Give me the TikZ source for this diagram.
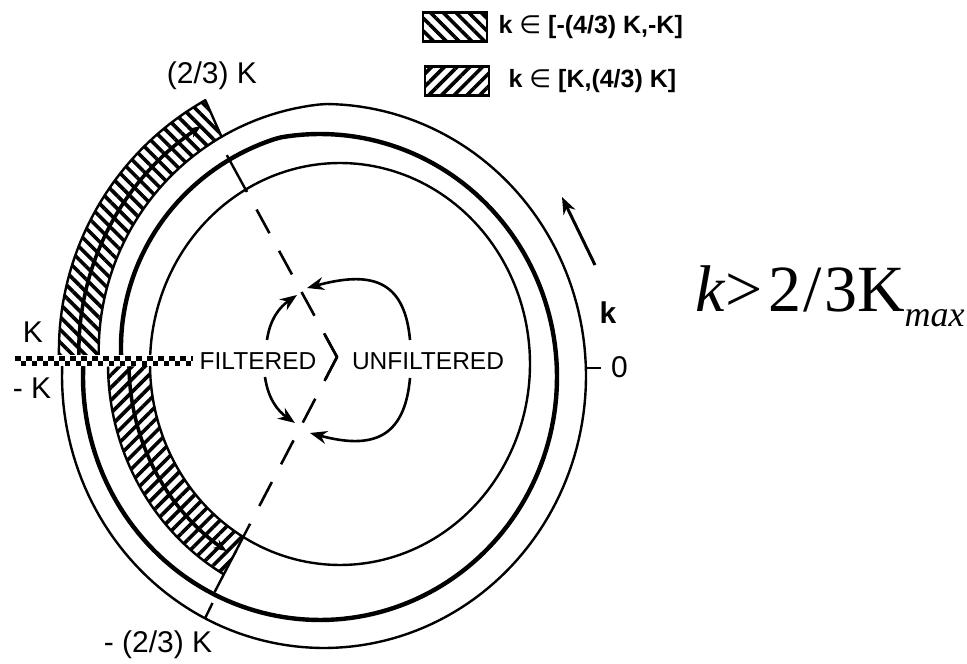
\documentclass[tikz,border=0pt]{standalone}
\usepackage{fontspec}
\setmainfont{Liberation Sans}
\newfontfamily\formulafont{Liberation Serif}
\newfontfamily\symfont{DejaVu Sans}
\usetikzlibrary{arrows.meta,patterns.meta,positioning,calc}
% radial shrink of the outer and middle rings towards K
\newcommand{\outdrop}{(38*max(0,\ang-450)/90)}
\newcommand{\middrop}{(40*max(0,\ang-460)/80)}

\begin{document}
\begin{tikzpicture}[
  x=1pt, y=1pt,
  >={Stealth[length=17pt,width=13pt]},
  ring/.style={line width=2.4pt, line join=round},
  thickring/.style={line width=4.4pt, line join=round},
  shaft/.style={line width=3.6pt, -{Stealth[length=13pt,width=10pt]}},
  tickmark/.style={line width=2.4pt},
  dashline/.style={line width=2.6pt, dash pattern=on 27pt off 20pt},
  flow/.style={line width=2.6pt, ->},
  negband/.style={pattern={Lines[angle=-45,distance=9pt,line width=3.6pt]}},
  posband/.style={pattern={Lines[angle=45,distance=9pt,line width=3.6pt]}},
  legbox/.style={draw, line width=2.8pt, minimum width=64pt, minimum height=29pt, inner sep=0pt},
  lbl/.style={font=\fontsize{30}{32}\selectfont, inner sep=0pt},
  midlbl/.style={font=\fontsize{24.5}{26}\selectfont, inner sep=0pt},
  legtxt/.style={font=\bfseries\fontsize{25}{27}\selectfont, inner sep=0pt, anchor=west},
]
\useasboundingbox (0,0) rectangle (967,664);

% --- hatched bands (aliased wavenumbers) ---
\fill[negband] plot[domain=474:536, samples=40, variable=\ang] ({324+(302-\outdrop)*cos(\ang)}, {288+(312-\outdrop)*sin(\ang)})
  -- plot[domain=536:474, samples=40, variable=\ang] ({324+(262-\outdrop)*cos(\ang)}, {288+(272-\outdrop)*sin(\ang)}) -- cycle;
\fill[posband] plot[domain=180.6:240, samples=40, variable=\ang] ({340+232*cos(\ang)}, {300+243*sin(\ang)})
  -- plot[domain=240:180.6, samples=40, variable=\ang] ({340+190*cos(\ang)}, {300+201*sin(\ang)}) -- cycle;
\coordinate (negend) at (221.5,527.3);
\draw[ring] plot[domain=536:474, samples=40, variable=\ang] ({324+(302-\outdrop)*cos(\ang)}, {288+(312-\outdrop)*sin(\ang)}) -- (negend);
\draw[ring] plot[domain=180.6:240, samples=40, variable=\ang] ({340+232*cos(\ang)}, {300+243*sin(\ang)});

% --- the three rings, cut at K / -K ---
\draw[ring] plot[domain=177:536, samples=200, variable=\ang] ({324+(262-\outdrop)*cos(\ang)}, {288+(272-\outdrop)*sin(\ang)});
\draw[thickring] plot[domain=176.7:535, samples=200, variable=\ang] ({320+(237-\middrop)*cos(\ang)}, {287+(243-\middrop)*sin(\ang)});
\draw[ring] plot[domain=180.6:538.3, samples=200, variable=\ang] ({340+190*cos(\ang)}, {300+201*sin(\ang)});

% --- arrows inside the bands ---
\draw[shaft] plot[domain=536:477, samples=40, variable=\ang] ({324+(282-\outdrop)*cos(\ang)}, {288+(292-\outdrop)*sin(\ang)});
\draw[shaft] plot[domain=180.6:237.5, samples=40, variable=\ang] ({340+211*cos(\ang)}, {300+222*sin(\ang)});

% --- tick marks ---
\coordinate (t1a) at (226.8,508.9);
\coordinate (t1b) at (245.5,474.7);
\coordinate (t3a) at (249.2,138.5);
\coordinate (t3b) at (214.6,71.9);
\coordinate (t4a) at (212.5,61);
\coordinate (t4b) at (205,45.6);
\coordinate (t5a) at (586,296);
\coordinate (t5b) at (601,296);
\draw[tickmark] (t1a) -- (t1b);
\draw[tickmark] (t3a) -- (t3b);
\draw[tickmark] (t4a) -- (t4b);
\draw[tickmark] (t5a) -- (t5b);

% --- cut between K and -K ---
\coordinate (cutl) at (15,303);
\coordinate (cutr) at (193,303);
\draw[white, line width=11pt] (cutl) -- (cutr);
\draw[line width=4.5pt, dash pattern=on 5.5pt off 5.5pt] ([yshift=2.5pt]cutl) -- ([yshift=2.5pt]cutr);
\draw[line width=4.5pt, dash pattern=on 5.5pt off 5.5pt, dash phase=5.5pt] ([yshift=-2.5pt]cutl) -- ([yshift=-2.5pt]cutr);

% --- radial dashed lines at +-(2/3)K ---
\coordinate (vtx) at (337,307);
\draw[dashline] (vtx) -- (t1b);
\draw[dashline] (vtx) -- (t3a);
\draw[line width=2.6pt] ($(vtx)!25pt!(t1b)$) -- (vtx) -- ($(vtx)!25pt!(t3a)$);

% --- filtered / unfiltered loops ---
\coordinate (fup) at (267,324);
\coordinate (tipfu) at (297,369);
\coordinate (fdn) at (265,287);
\coordinate (tipfd) at (295,241);
\coordinate (uup) at (410,324);
\coordinate (tipuu) at (307,376);
\coordinate (udn) at (410,286);
\coordinate (tipud) at (310,231);
\draw[flow] (fup) to[out=82,in=215] (tipfu);
\draw[flow] (fdn) to[out=-82,in=145] (tipfd);
\draw[flow] (uup) to[out=95,in=15,looseness=1.4] (tipuu);
\draw[flow] (udn) to[out=-95,in=-15,looseness=1.4] (tipud);

% --- direction of k ---
\coordinate (ktail) at (595,399);
\coordinate (khead) at (562,467);
\draw[flow, line width=3pt] (ktail) -- (khead);

% --- labels ---
\node[lbl] (kupper) at (33,332) {K};
\node[lbl] (klower) at (32,276) {- K};
\node[lbl] (twothirds) at (212,588) {(2/3) K};
\node[lbl] (negtwothirds) at (158,19) {- (2/3) K};
\node[midlbl] (filt) at (258,303) {FILTERED};
\node[midlbl] (unfilt) at (428,303) {UNFILTERED};
\node[lbl, font=\bfseries\fontsize{30}{32}\selectfont] (kdir) at (608,351) {k};
\node[lbl, anchor=west] (zero) at (611,297) {0};
\node[anchor=base west, inner sep=0pt, font=\formulafont\fontsize{66}{70}\selectfont] (cond) at (695,352)
  {\textit{k}>\hspace{6pt}2\hspace{2pt}/\hspace{2pt}3K\raisebox{-15pt}{\fontsize{36}{36}\selectfont\textit{max}}};

% --- legend ---
\node[legbox, negband] (leg1box) at (455,637) {};
\node[legtxt, right=10pt of leg1box] (leg1txt) {k {\symfont\mdseries ∈} [-(4/3) K,-K]};
\node[legbox, posband] (leg2box) at (457,583) {};
\node[legtxt, right=18pt of leg2box] (leg2txt) {k {\symfont\mdseries ∈} [K,(4/3) K]};
\end{tikzpicture}
\end{document}
